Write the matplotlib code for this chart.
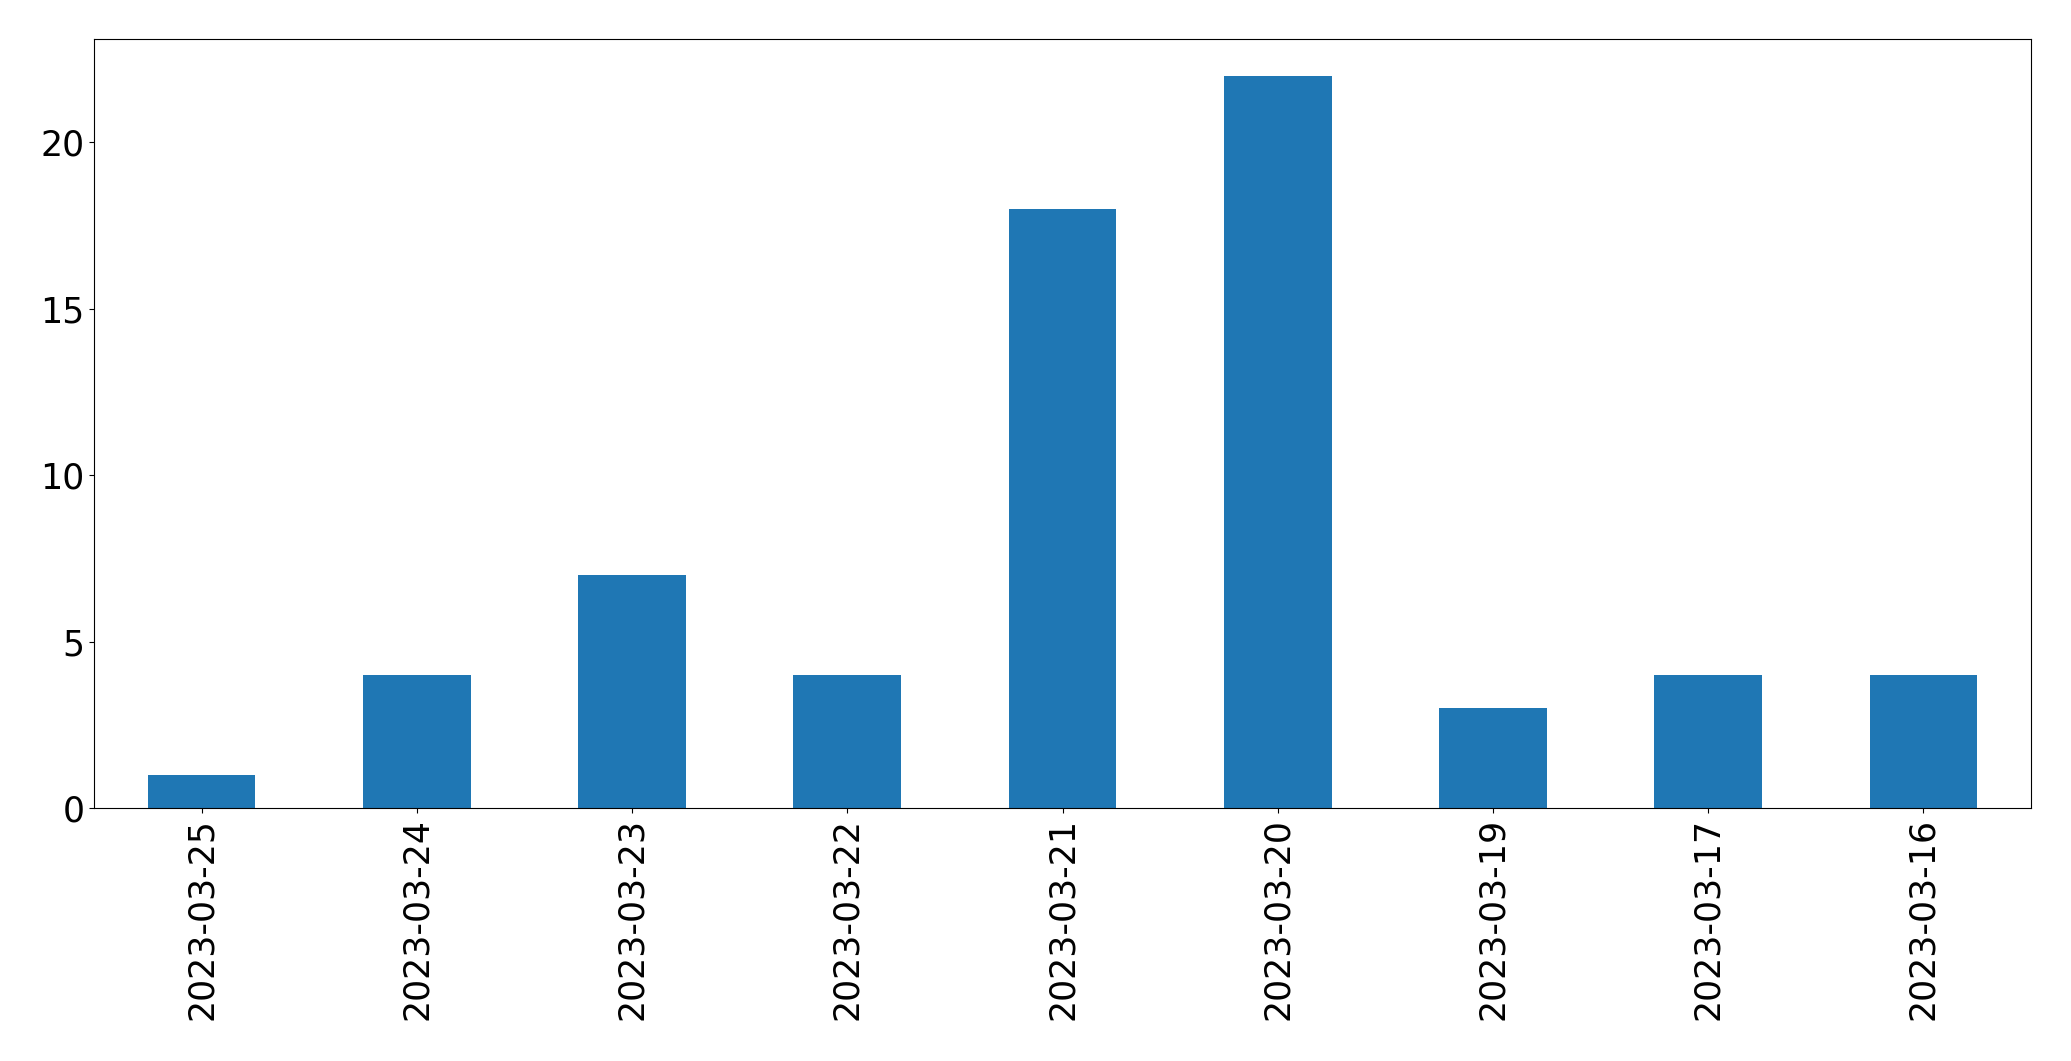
import matplotlib
matplotlib.use("Agg")
import matplotlib.pyplot as plt

dates = ["2023-03-25", "2023-03-24", "2023-03-23", "2023-03-22", "2023-03-21",
         "2023-03-20", "2023-03-19", "2023-03-17", "2023-03-16"]
counts = [1, 4, 7, 4, 18, 22, 3, 4, 4]

fig = plt.figure(figsize=(20.71, 10.61), dpi=100)
ax = fig.add_axes([94/2071, 1 - 808/1061, (2031-94)/2071, (808-39)/1061])
x = list(range(len(dates)))
ax.bar(x, counts, width=0.5, color="#1f77b4")
ax.set_xlim(-0.5, len(dates) - 0.5)
ax.set_ylim(0, max(counts) * 1.05)
ax.set_xticks(x)
ax.set_xticklabels(dates, rotation=90)
ax.set_yticks([0, 5, 10, 15, 20])
ax.tick_params(labelsize=25)
fig.savefig("out.png", dpi=100)
